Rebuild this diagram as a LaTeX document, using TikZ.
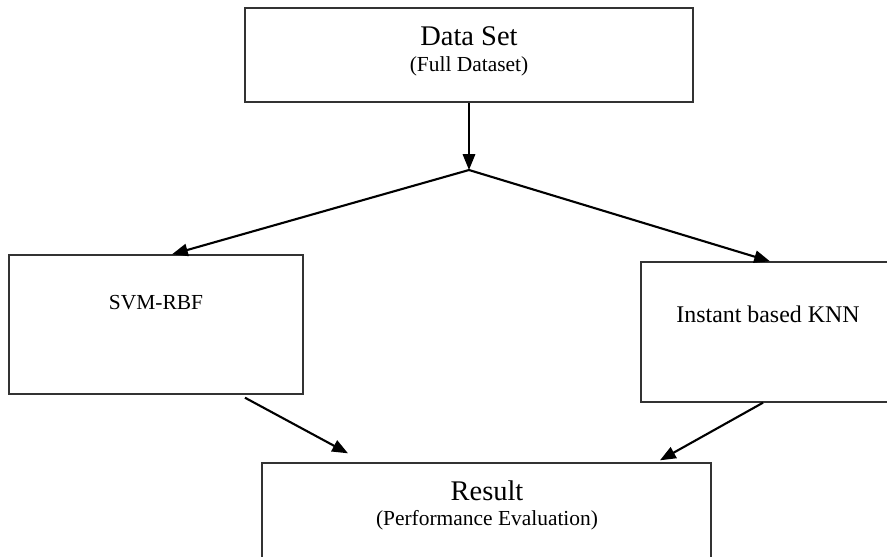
\documentclass[tikz,border=0pt]{standalone}
\usepackage{fontspec}
\setmainfont{Liberation Serif}
\usetikzlibrary{arrows.meta}

\begin{document}
\begin{tikzpicture}
  [x=0.02cm,y=-0.02cm,
   box/.style={draw=black!80,line width=0.8pt,rectangle,inner sep=0pt},
   title/.style={font=\fontsize{16.2}{19}\selectfont},
   sub/.style={font=\fontsize{12.2}{14}\selectfont},
   arr/.style={line width=1.2pt,-{Triangle[length=9pt,width=7pt]}}]
  \useasboundingbox (0,0) rectangle (887,556);
  \clip (0,0) rectangle (887,556);
  % boxes
  \node[box,minimum width=8.96cm,minimum height=1.88cm] (data) at (469,55) {};
  \node[box,minimum width=5.88cm,minimum height=2.78cm] (svm) at (156,324.5) {};
  \node[box,minimum width=5.32cm,minimum height=2.8cm] (knn) at (774,332) {};
  \node[box,minimum width=8.98cm,minimum height=3.14cm] (result) at (486.5,541.5) {};
  % texts
  \node[title] (datat) at (469,36) {Data Set};
  \node[sub] (datas) at (469,66) {(Full Dataset)};
  \node[sub] (svmt) at (156,303) {SVM-RBF};
  \node[sub,font=\fontsize{13.6}{16}\selectfont] (knnt) at (768,314) {Instant based KNN};
  \node[title] (resultt) at (487,491) {Result};
  \node[sub] (results) at (487,520) {(Performance Evaluation)};
  % arrows
  \coordinate (split) at (469,170);
  \draw[arr] (data) -- (split);
  \draw[arr] (split) -- ([xshift=0.32cm]svm.north);
  \draw[arr] (split) -- ([xshift=-0.08cm]knn.north);
  \draw[arr] ([xshift=1.78cm,yshift=-0.06cm]svm.south) -- ([xshift=-2.77cm,yshift=0.18cm]result.north);
  \draw[arr] ([xshift=-0.22cm]knn.south) -- ([xshift=3.47cm,yshift=0.04cm]result.north);
\end{tikzpicture}
\end{document}
